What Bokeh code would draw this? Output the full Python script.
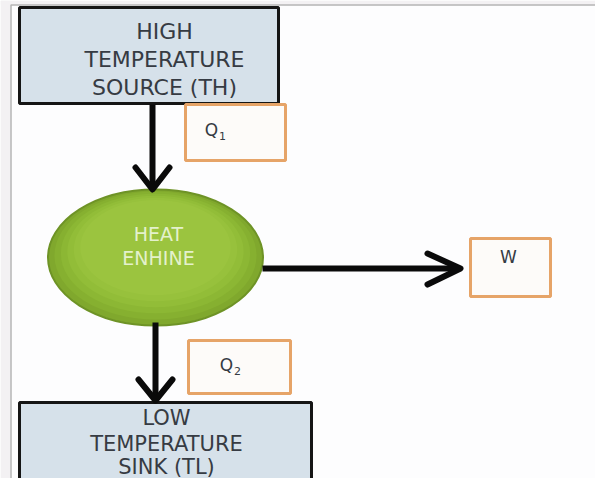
from bokeh.plotting import figure
from bokeh.models import Range1d
from bokeh.core.properties import value
from bokeh.embed import file_html
from bokeh.resources import INLINE

# ---- diagram content ----
source_lines = ["HIGH", "TEMPERATURE", "SOURCE (TH)"]
sink_lines = ["LOW", "TEMPERATURE", "SINK (TL)"]
engine_lines = ["HEAT", "ENHINE"]
flow_labels = ["Q", "Q", "W"]
flow_subs = ["1", "2"]

# ---- geometry (image pixel coordinates) ----
src_box = (19, 278, 7, 103)       # x0, x1, y0, y1
sink_box = (19, 311, 402, 520)
q_boxes = [(185, 285, 104, 160), (188, 290, 340, 393), (470, 550, 238, 296)]
eng_cx, eng_cy, eng_w, eng_h = 155, 257, 215, 136

W, H = 595, 478
p = figure(width=W, height=H, output_backend="svg", toolbar_location=None,
           x_range=Range1d(0, W), y_range=Range1d(H, 0),
           min_border=0, background_fill_color="#fdfdfe", border_fill_color="#fdfdfe")
p.axis.visible = False
p.grid.visible = False
p.outline_line_color = None

# outer page strip and frame
p.quad(left=[0], right=[10], top=[0], bottom=[520], fill_color="#f3f1f3", line_color=None)
p.quad(left=[0], right=[620], top=[0], bottom=[4], fill_color="#f3f1f3", line_color=None)
p.quad(left=[598], right=[620], top=[0], bottom=[520], fill_color="#f3f1f3", line_color=None)
p.line([10.5, 10.5, 598.5, 598.5], [520, 4.5, 4.5, 520], line_color="#b4b4b4", line_width=1.5)

TXT = "#363b43"
FONT = value("DejaVu Sans")

def box(b, fill, line, lw):
    p.quad(left=[b[0]], right=[b[1]], top=[b[2]], bottom=[b[3]],
           fill_color=fill, line_color=line, line_width=lw)

box(src_box, "#d6e1ea", "#151515", 3)
box(sink_box, "#d6e1ea", "#151515", 3)
for b in q_boxes:
    box(b, "#fdfbf9", "#e6a468", 3)

# text in source / sink boxes
p.text(x=[164] * 3, y=[31, 59, 87], text=source_lines, text_font=FONT,
       text_font_size="22px", text_color=TXT, text_align="center", text_baseline="middle")
p.text(x=[166] * 3, y=[417, 443, 466], text=sink_lines, text_font=FONT,
       text_font_size="21px", text_color=TXT, text_align="center", text_baseline="middle")

# flow labels
lx = [211, 226, 508]
ly = [129, 364, 256]
p.text(x=lx, y=ly, text=flow_labels, text_font=FONT, text_font_size="17px",
       text_color=TXT, text_align="center", text_baseline="middle")
p.text(x=[lx[0] + 11, lx[1] + 11], y=[ly[0] + 6, ly[1] + 6], text=flow_subs, text_font=FONT,
       text_font_size="11px", text_color=TXT, text_align="center", text_baseline="middle")

# engine ellipse with shading
p.ellipse(x=[eng_cx], y=[eng_cy], width=[eng_w], height=[eng_h],
          fill_color="#80a82d", line_color="#6e9326", line_width=2)
shades = ["#86b030", "#8cb734", "#92bd38", "#97c13c", "#9bc43f"]
for i, c in enumerate(shades):
    f = 1 - (i + 1) * 0.06
    p.ellipse(x=[eng_cx], y=[eng_cy - (i + 1) * 2], width=[eng_w * f], height=[eng_h * f],
              fill_color=c, line_color=None)
p.text(x=[158, 158], y=[233, 257], text=engine_lines, text_font=FONT, text_font_size="19px",
       text_color="#e4f1cc", text_align="center", text_baseline="middle")

# arrows
AR = "#0a0a0a"
p.line([152, 152], [104, 188], line_color=AR, line_width=6)
p.line([135, 152, 169], [167, 189, 167], line_color=AR, line_width=6, line_join="round", line_cap="round")
p.line([155, 155], [322, 398], line_color=AR, line_width=6)
p.line([138, 155, 172], [379, 400, 379], line_color=AR, line_width=6, line_join="round", line_cap="round")
p.line([262, 458], [268, 268], line_color=AR, line_width=6)
p.line([427, 460, 427], [253, 268, 284], line_color=AR, line_width=6, line_join="round", line_cap="round")

open("out.html", "w").write(file_html(p, INLINE))
